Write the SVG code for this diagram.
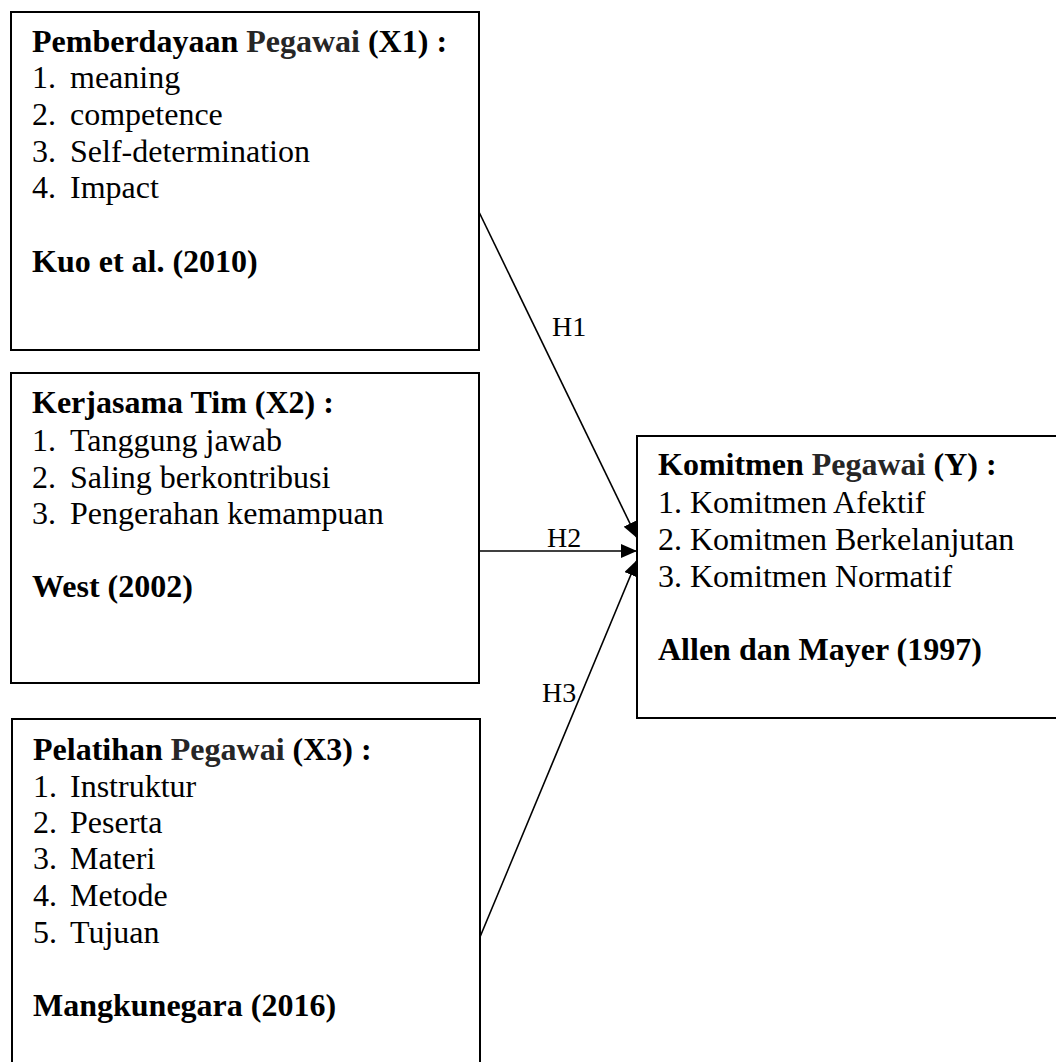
<svg xmlns="http://www.w3.org/2000/svg" width="1056" height="1062" viewBox="0 0 1056 1062">
<style>
.box{fill:#fff;stroke:#000;stroke-width:2}
text{font-family:"Liberation Serif","Times New Roman",serif;font-size:32px;fill:#000}
.b{font-weight:bold}
.g{fill:#262626}
.lbl{font-size:28px}
.conn{stroke:#000;stroke-width:1.6;fill:none;marker-end:url(#arr)}
</style>
<defs>
<marker id="arr" markerUnits="userSpaceOnUse" markerWidth="18" markerHeight="14" refX="16" refY="7" orient="auto">
<path d="M0,0 L16,7 L0,14 z" fill="#000"/>
</marker>
</defs>
<rect width="1056" height="1062" fill="#fff"/>
<g id="node-x1">
<rect class="box" x="11" y="12" width="468" height="338"/>
<text class="b" x="32" y="52">Pemberdayaan <tspan class="g">Pegawai</tspan> (X1) :</text>
<text x="32" y="88">1.</text><text x="70" y="88">meaning</text>
<text x="32" y="125">2.</text><text x="70" y="125">competence</text>
<text x="32" y="162">3.</text><text x="70" y="162">Self-determination</text>
<text x="32" y="198">4.</text><text x="70" y="198">Impact</text>
<text class="b" x="32" y="272">Kuo et al. (2010)</text>
</g>
<g id="node-x2">
<rect class="box" x="11" y="373" width="468" height="310"/>
<text class="b" x="32" y="413">Kerjasama Tim (X2) :</text>
<text x="32" y="451">1.</text><text x="70" y="451">Tanggung jawab</text>
<text x="32" y="488">2.</text><text x="70" y="488">Saling berkontribusi</text>
<text x="32" y="524">3.</text><text x="70" y="524">Pengerahan kemampuan</text>
<text class="b" x="32" y="597">West (2002)</text>
</g>
<g id="node-x3">
<rect class="box" x="12" y="719" width="468" height="360"/>
<text class="b" x="33" y="760">Pelatihan <tspan class="g">Pegawai</tspan> (X3) :</text>
<text x="33" y="797">1.</text><text x="70" y="797">Instruktur</text>
<text x="33" y="833">2.</text><text x="70" y="833">Peserta</text>
<text x="33" y="869">3.</text><text x="70" y="869">Materi</text>
<text x="33" y="906">4.</text><text x="70" y="906">Metode</text>
<text x="33" y="943">5.</text><text x="70" y="943">Tujuan</text>
<text class="b" x="33" y="1016">Mangkunegara (2016)</text>
</g>
<g id="node-y">
<rect class="box" x="637" y="436" width="430" height="282"/>
<text class="b" x="658" y="475">Komitmen <tspan class="g">Pegawai</tspan> (Y) :</text>
<text x="658" y="513">1. Komitmen Afektif</text>
<text x="658" y="550">2. Komitmen Berkelanjutan</text>
<text x="658" y="587">3. Komitmen Normatif</text>
<text class="b" x="658" y="660">Allen dan Mayer (1997)</text>
</g>
<g id="connectors">
<line class="conn" x1="479" y1="212" x2="637" y2="538"/>
<line class="conn" x1="479" y1="551" x2="637" y2="551"/>
<line class="conn" x1="480" y1="937" x2="637" y2="560"/>
<text class="lbl" x="552" y="336">H1</text>
<text class="lbl" x="547" y="547">H2</text>
<text class="lbl" x="542" y="702">H3</text>
</g>
</svg>
